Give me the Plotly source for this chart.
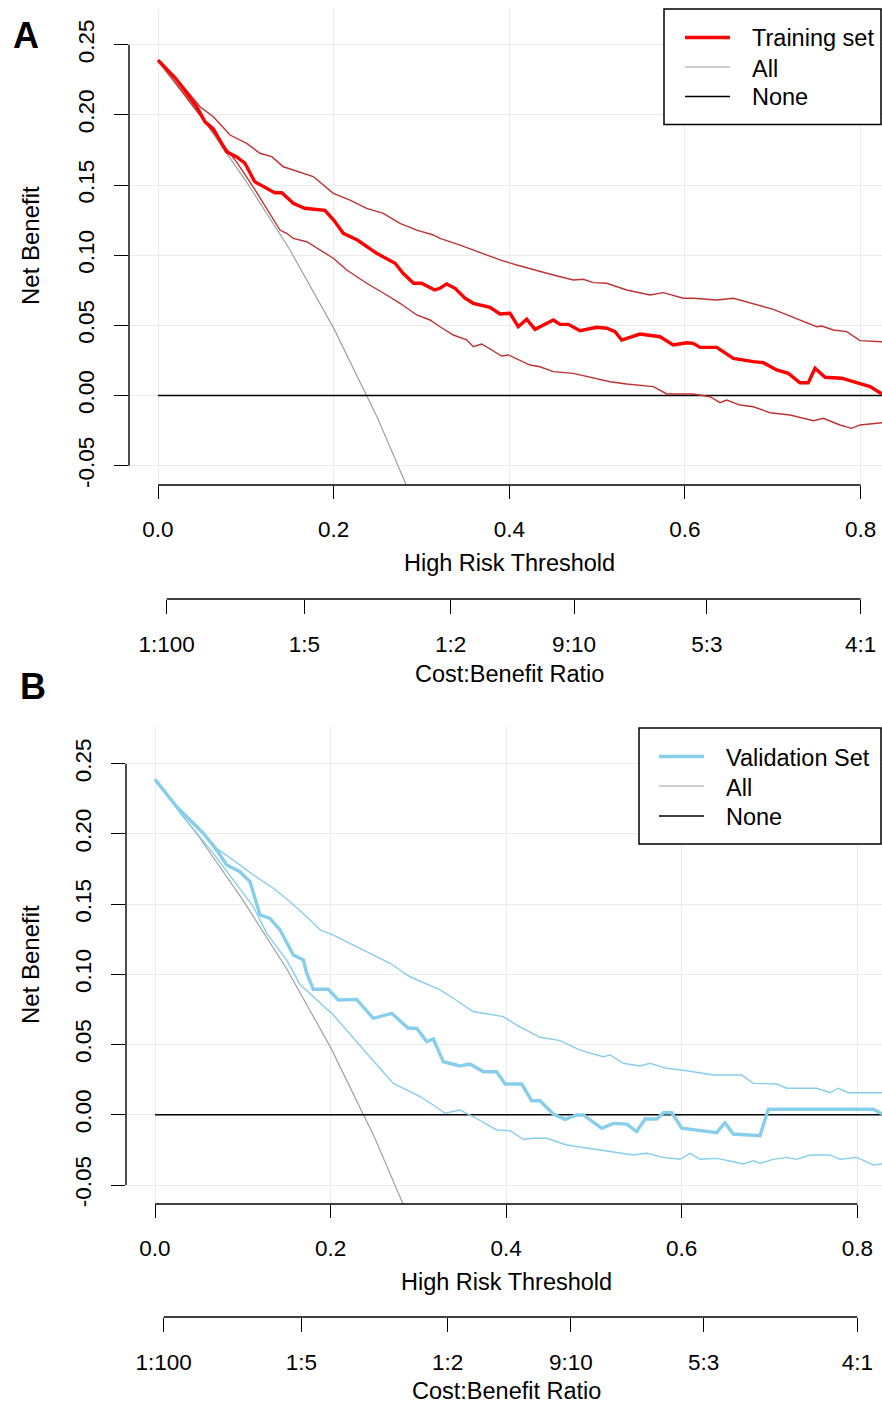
import plotly.graph_objects as go

W, H = 882, 1406
FONT = "Arial, 'Liberation Sans', sans-serif"

# ---------------- data ----------------
# Panel A : training set
thr_train = [0.0, 0.020, 0.044, 0.0535, 0.063, 0.078, 0.0896, 0.099, 0.110, 0.124, 0.133, 0.141,
             0.154, 0.167, 0.186, 0.190, 0.200, 0.211, 0.227, 0.238, 0.249, 0.270, 0.279, 0.291,
             0.300, 0.315, 0.3211, 0.3287, 0.3382, 0.3496, 0.3590, 0.3780, 0.3894, 0.4008,
             0.4102, 0.4198, 0.4293, 0.4501, 0.4577, 0.4672, 0.4805, 0.4995, 0.5109, 0.5204,
             0.5280, 0.5487, 0.5583, 0.5716, 0.5867, 0.6020, 0.6095, 0.6171, 0.6362, 0.6551,
             0.6778, 0.6892, 0.7045, 0.7177, 0.7310, 0.7404, 0.7481, 0.7595, 0.7785, 0.7917,
             0.8031, 0.8107, 0.8244]
nb_train = [0.239, 0.226, 0.2058, 0.195, 0.190, 0.1737, 0.170, 0.1655, 0.1524, 0.1477, 0.1445, 0.1445,
            0.137, 0.1334, 0.1327, 0.132, 0.125, 0.1156, 0.1108, 0.106, 0.1013, 0.0942, 0.0871, 0.080,
            0.080, 0.0752, 0.0764, 0.0795, 0.0764, 0.0693, 0.0657, 0.0629, 0.0581, 0.0586,
            0.0490, 0.0543, 0.0472, 0.0538, 0.0507, 0.0507, 0.0462, 0.0486, 0.0479, 0.0455,
            0.0395, 0.0438, 0.0431, 0.0419, 0.0360, 0.0376, 0.0372, 0.0343, 0.0343, 0.0265,
            0.0241, 0.0234, 0.0182, 0.0158, 0.0091, 0.0091, 0.0194, 0.0130, 0.0123, 0.0098,
            0.0075, 0.0063, 0.0011]

thr_train_hi = [0.0, 0.025, 0.0478, 0.063, 0.082, 0.101, 0.116, 0.1295, 0.1427, 0.1655, 0.1768,
                0.1996, 0.2186, 0.2376, 0.2565, 0.2755, 0.2946, 0.3135, 0.3211, 0.3439, 0.3704,
                0.3894, 0.4084, 0.4350, 0.4501, 0.4729, 0.4843, 0.4956, 0.5109, 0.5337, 0.5602,
                0.5753, 0.5981, 0.6095, 0.6362, 0.6551, 0.6741, 0.7006, 0.7234, 0.7500, 0.7557,
                0.7689, 0.7842, 0.7993, 0.8244]
nb_train_hi = [0.239, 0.223, 0.2058, 0.1987, 0.1856, 0.1797, 0.1726, 0.1702, 0.163, 0.1583, 0.156,
               0.1441, 0.1393, 0.1334, 0.1298, 0.1227, 0.1179, 0.1144, 0.1120, 0.1072, 0.1013,
               0.0966, 0.0930, 0.0882, 0.0859, 0.0823, 0.0828, 0.0804, 0.0800, 0.0752, 0.0716,
               0.0733, 0.0693, 0.0693, 0.0681, 0.0693, 0.0661, 0.0614, 0.0557, 0.0490, 0.0495,
               0.0467, 0.0455, 0.0391, 0.0383]

thr_train_lo = [0.0, 0.020, 0.045, 0.070, 0.090, 0.110, 0.1275, 0.1389, 0.1465, 0.1541, 0.1693,
                0.1882, 0.1996, 0.2149, 0.2376, 0.2604, 0.2755, 0.2946, 0.3097, 0.3211, 0.3362,
                0.3515, 0.3590, 0.3686, 0.3913, 0.3989, 0.4236, 0.4350, 0.4501, 0.4729, 0.4956,
                0.5147, 0.5337, 0.5640, 0.5792, 0.6095, 0.6285, 0.6399, 0.6475, 0.6627, 0.6778,
                0.6968, 0.7196, 0.7462, 0.7575, 0.7765, 0.7898, 0.7993, 0.8244]
nb_train_lo = [0.239, 0.223, 0.202, 0.182, 0.166, 0.147, 0.1298, 0.1179, 0.1156, 0.1120, 0.1096,
               0.1025, 0.0978, 0.0894, 0.0800, 0.0716, 0.0657, 0.0574, 0.0538, 0.0490, 0.0431,
               0.0397, 0.0348, 0.0367, 0.0281, 0.0289, 0.0217, 0.0205, 0.0170, 0.0158, 0.0123,
               0.0098, 0.0082, 0.0063, 0.0011, 0.0011, -0.0009, -0.0051, -0.0032, -0.0068, -0.0080,
               -0.0123, -0.0139, -0.0180, -0.0162, -0.0210, -0.0234, -0.0210, -0.0194]

# Panel B : validation set
thr_valid = [0.0, 0.0247, 0.0399, 0.0550, 0.0703, 0.0817, 0.0968, 0.1082, 0.1139, 0.1196, 0.1310,
             0.1424, 0.1576, 0.1690, 0.1728, 0.1803, 0.1974, 0.2088, 0.2297, 0.2487, 0.2696,
             0.2885, 0.2981, 0.3095, 0.3170, 0.3284, 0.3474, 0.3588, 0.3740, 0.3892, 0.3987,
             0.4177, 0.4291, 0.4385, 0.4537, 0.4670, 0.4803, 0.4879, 0.5089, 0.5221, 0.5374,
             0.5487, 0.5582, 0.5715, 0.5790, 0.5886, 0.6000, 0.6132, 0.6398, 0.6493, 0.6587,
             0.6891, 0.6986, 0.8182, 0.8281]
nb_valid = [0.2389, 0.2194, 0.2099, 0.2005, 0.1886, 0.1779, 0.1731, 0.1660, 0.1542, 0.1423, 0.1399,
            0.1316, 0.1138, 0.1102, 0.1008, 0.0894, 0.0894, 0.0817, 0.0822, 0.0687, 0.0723,
            0.0616, 0.0616, 0.0521, 0.0540, 0.0378, 0.0348, 0.0362, 0.0307, 0.0307, 0.0219,
            0.0219, 0.0100, 0.0100, 0.0006, -0.0032, -0.0001, -0.0001, -0.0096, -0.0061, -0.0066,
            -0.0120, -0.0030, -0.0030, 0.0015, 0.0015, -0.0096, -0.0108, -0.0127, -0.0056, -0.0137,
            -0.0149, 0.0039, 0.0039, 0.0006]

thr_valid_hi = [0.0, 0.0361, 0.0513, 0.0703, 0.0892, 0.1120, 0.1348, 0.1538, 0.1728, 0.1880,
                0.2031, 0.2297, 0.2525, 0.2677, 0.2905, 0.3247, 0.3398, 0.3626, 0.3740, 0.3968,
                0.4120, 0.4385, 0.4613, 0.4841, 0.5106, 0.5182, 0.5334, 0.5524, 0.5638, 0.5828,
                0.6056, 0.6359, 0.6683, 0.6815, 0.7081, 0.7195, 0.7537, 0.7689, 0.7783, 0.7897,
                0.8281]
nb_valid_hi = [0.2389, 0.2113, 0.2028, 0.1898, 0.1814, 0.1708, 0.1613, 0.1517, 0.1411, 0.1316,
               0.1280, 0.1197, 0.1126, 0.1079, 0.0983, 0.0889, 0.0830, 0.0734, 0.0723, 0.0699,
               0.0639, 0.0552, 0.0528, 0.0461, 0.0414, 0.0426, 0.0367, 0.0348, 0.0367, 0.0331,
               0.0314, 0.0283, 0.0283, 0.0224, 0.0219, 0.0189, 0.0189, 0.0157, 0.0189, 0.0157,
               0.0157]

thr_valid_lo = [0.0, 0.030, 0.0664, 0.0892, 0.1120, 0.1272, 0.1500, 0.1650, 0.1880, 0.2031,
                0.2411, 0.2714, 0.3019, 0.3170, 0.3303, 0.3398, 0.3474, 0.3626, 0.3892, 0.4044,
                0.4196, 0.4310, 0.4462, 0.4690, 0.4955, 0.5221, 0.5449, 0.5601, 0.5791, 0.5980,
                0.6094, 0.6208, 0.6398, 0.6588, 0.6702, 0.6815, 0.6891, 0.7043, 0.7195, 0.7309,
                0.7461, 0.7689, 0.7803, 0.7993, 0.8183, 0.8281]
nb_valid_lo = [0.2389, 0.214, 0.1862, 0.1672, 0.1482, 0.1292, 0.1102, 0.0930, 0.0794, 0.0711,
               0.0438, 0.0224, 0.0129, 0.0070, 0.0011, 0.0022, 0.0034, -0.0014, -0.0108, -0.0113,
               -0.0174, -0.0167, -0.0167, -0.0215, -0.0239, -0.0263, -0.0286, -0.0274, -0.0303, -0.0317,
               -0.0274, -0.0317, -0.0310, -0.0334, -0.0350, -0.0327, -0.0345, -0.0317, -0.0303, -0.0317,
               -0.0286, -0.0286, -0.0317, -0.0303, -0.0357, -0.0350]

# reference strategies (same in both panels)
thr_all = [0.0, 0.05, 0.10, 0.15, 0.20, 0.25, 0.30]
nb_all = [0.238, 0.198, 0.153, 0.104, 0.048, -0.016, -0.089]
thr_none = [0.0, 0.85]
nb_none = [0.0, 0.0]

# axis ticks
x_tickvals = [0.0, 0.2, 0.4, 0.6, 0.8]
x_ticktext = ["0.0", "0.2", "0.4", "0.6", "0.8"]
y_tickvals = [-0.05, 0.0, 0.05, 0.10, 0.15, 0.20, 0.25]
y_ticktext = ["-0.05", "0.00", "0.05", "0.10", "0.15", "0.20", "0.25"]
cb_labels = ["1:100", "1:5", "1:2", "9:10", "5:3", "4:1"]
cb_cost = [1, 1, 1, 9, 5, 4]
cb_benefit = [100, 5, 2, 10, 3, 1]
cb_thr = [c / (c + b) for c, b in zip(cb_cost, cb_benefit)]


def fy(p):  # pixel row -> paper
    return 1 - p / H


def fx(p):
    return p / W


panels = [
    dict(name="Training set", color="#FF0000", ci_color="#BE3232",
         thr=thr_train, nb=nb_train, thr_hi=thr_train_hi, nb_hi=nb_train_hi,
         thr_lo=thr_train_lo, nb_lo=nb_train_lo,
         xd=[129 / W, 1.0], yd=[fy(485), fy(9)],
         xr=[-0.03302, 0.82437], yr=[-0.06378, 0.27542],
         cb_y=599, lab="A", lab_xy=(26, 35), title_y=563, cbtitle_y=675, ylab_y=246,
         box=(664, 9, 881, 124.5), samp_x=(685, 730), text_x=750,
         samp_y=(37.5, 67, 96.5), text_y=(38.5, 69, 97.5)),
    dict(name="Validation Set", color="#87CEEB", ci_color="#87CEEB",
         thr=thr_valid, nb=nb_valid, thr_hi=thr_valid_hi, nb_hi=nb_valid_hi,
         thr_lo=thr_valid_lo, nb_lo=nb_valid_lo,
         xd=[126 / W, 1.0], yd=[fy(1204), fy(727)],
         xr=[-0.03303, 0.82811], yr=[-0.06352, 0.27615],
         cb_y=1317, lab="B", lab_xy=(33, 686), title_y=1282, cbtitle_y=1393, ylab_y=965,
         box=(639, 728, 881, 844), samp_x=(659, 704), text_x=724,
         samp_y=(756.5, 786, 816), text_y=(757.5, 788, 817)),
]

fig = go.Figure()
shapes = []
annotations = []
TICK = dict(family=FONT, size=22.5, color="black")
TITLE = dict(family=FONT, size=23.5, color="black")
LEGF = dict(family=FONT, size=23.5, color="black")

STYLE_ALL = dict(color="#A0A0A0", width=1.2)
STYLE_NONE = dict(color="black", width=1.4)

for i, p in enumerate(panels):
    k = "" if i == 0 else str(i + 1)
    xa, ya = "x" + k, "y" + k
    cbk = str(3 + i)
    style_model = dict(color=p["color"], width=3.4)
    # All / None
    fig.add_trace(go.Scatter(x=thr_all, y=nb_all, mode="lines", name="All", showlegend=False,
                             line=STYLE_ALL, xaxis=xa, yaxis=ya, hoverinfo="skip"))
    fig.add_trace(go.Scatter(x=thr_none, y=nb_none, mode="lines", name="None", showlegend=False,
                             line=STYLE_NONE, xaxis=xa, yaxis=ya, hoverinfo="skip"))
    # confidence limits
    fig.add_trace(go.Scatter(x=p["thr_hi"], y=p["nb_hi"], mode="lines", showlegend=False,
                             name=p["name"] + " upper", line=dict(color=p["ci_color"], width=1.4),
                             xaxis=xa, yaxis=ya, hoverinfo="skip"))
    fig.add_trace(go.Scatter(x=p["thr_lo"], y=p["nb_lo"], mode="lines", showlegend=False,
                             name=p["name"] + " lower", line=dict(color=p["ci_color"], width=1.4),
                             xaxis=xa, yaxis=ya, hoverinfo="skip"))
    # model
    fig.add_trace(go.Scatter(x=p["thr"], y=p["nb"], mode="lines", name=p["name"],
                             showlegend=False, line=style_model, xaxis=xa, yaxis=ya,
                             hoverinfo="skip"))
    # carrier for the cost:benefit axis (no visible marks)
    fig.add_trace(go.Scatter(x=cb_thr, y=[None] * len(cb_thr), mode="markers",
                             showlegend=False, xaxis="x" + cbk, yaxis=ya, hoverinfo="skip"))

    fig.update_layout(**{
        "xaxis" + k: dict(domain=p["xd"], range=p["xr"], anchor=ya, automargin=False,
                          tickvals=x_tickvals, ticktext=x_ticktext,
                          ticks="outside", ticklen=13, tickwidth=1.4, tickcolor="black",
                          ticklabelstandoff=11,
                          showgrid=True, gridcolor="#EBEBEB", gridwidth=1.4,
                          zeroline=False, showline=False, tickfont=TICK),
        "yaxis" + k: dict(domain=p["yd"], range=p["yr"], anchor=xa, automargin=False,
                          tickvals=y_tickvals, ticktext=y_ticktext, tickangle=-90,
                          ticks="outside", ticklen=14, tickwidth=1.4, tickcolor="black",
                          ticklabelstandoff=11,
                          showgrid=True, gridcolor="#EBEBEB", gridwidth=1.4,
                          zeroline=False, showline=False, tickfont=TICK),
        "xaxis" + cbk: dict(overlaying=xa, anchor="free", position=fy(p["cb_y"]),
                            side="bottom", range=p["xr"], automargin=False,
                            tickvals=cb_thr, ticktext=cb_labels,
                            ticks="outside", ticklen=14, tickwidth=1.4, tickcolor="black",
                            ticklabelstandoff=11,
                            showgrid=False, zeroline=False, showline=False, tickfont=TICK),
    })

    # legend (frame, line samples, labels)
    bx0, by0, bx1, by1 = p["box"]
    shapes.append(dict(type="rect", xref="paper", yref="paper", x0=fx(bx0), x1=fx(bx1),
                       y0=fy(by1), y1=fy(by0), fillcolor="white",
                       line=dict(color="black", width=1.5), layer="above"))
    entries = [(p["name"], style_model), ("All", STYLE_ALL), ("None", STYLE_NONE)]
    for (label, st), sy, ty in zip(entries, p["samp_y"], p["text_y"]):
        shapes.append(dict(type="line", xref="paper", yref="paper",
                           x0=fx(p["samp_x"][0]), x1=fx(p["samp_x"][1]),
                           y0=fy(sy), y1=fy(sy), line=st, layer="above"))
        annotations.append(dict(text=label, xref="paper", yref="paper", x=fx(p["text_x"]),
                                y=fy(ty), xanchor="left", yanchor="middle", showarrow=False,
                                font=LEGF))

    # R-style axis lines spanning the tick range only
    shapes.append(dict(type="line", xref=xa + " domain", yref=ya, x0=0, x1=0,
                       y0=y_tickvals[0], y1=y_tickvals[-1], line=dict(color="black", width=1.4)))
    shapes.append(dict(type="line", xref=xa, yref=ya + " domain", x0=x_tickvals[0],
                       x1=x_tickvals[-1], y0=0, y1=0, line=dict(color="black", width=1.4)))
    shapes.append(dict(type="line", xref=xa, yref="paper", x0=cb_thr[0], x1=cb_thr[-1],
                       y0=fy(p["cb_y"]), y1=fy(p["cb_y"]), line=dict(color="black", width=1.4)))

    annotations += [
        dict(text="<b>%s</b>" % p["lab"], xref="paper", yref="paper", x=fx(p["lab_xy"][0]),
             y=fy(p["lab_xy"][1]), xanchor="center", yanchor="middle", showarrow=False,
             font=dict(family=FONT, size=36, color="black")),
        dict(text="High Risk Threshold", xref=xa, yref="paper", x=0.4, y=fy(p["title_y"]),
             xanchor="center", yanchor="middle", showarrow=False, font=TITLE),
        dict(text="Cost:Benefit Ratio", xref=xa, yref="paper", x=0.4,
             y=fy(min(p["cbtitle_y"] + 13.5, H - 0.5)),
             xanchor="center", yanchor="bottom", showarrow=False, font=TITLE),
        dict(text="Net Benefit", xref="paper", yref="paper", x=fx(30), y=fy(p["ylab_y"]),
             xanchor="center", yanchor="middle", textangle=-90, showarrow=False,
             font=dict(family=FONT, size=24, color="black")),
    ]

fig.update_layout(template="none", width=W, height=H, margin=dict(l=0, r=0, t=0, b=0, pad=0),
                  paper_bgcolor="white", plot_bgcolor="white", showlegend=False,
                  font=dict(family=FONT, size=22, color="black"),
                  shapes=shapes, annotations=annotations, hovermode=False)

fig.write_html("out.html", config={"displayModeBar": False},
               post_script="document.body.style.margin='0px';")
